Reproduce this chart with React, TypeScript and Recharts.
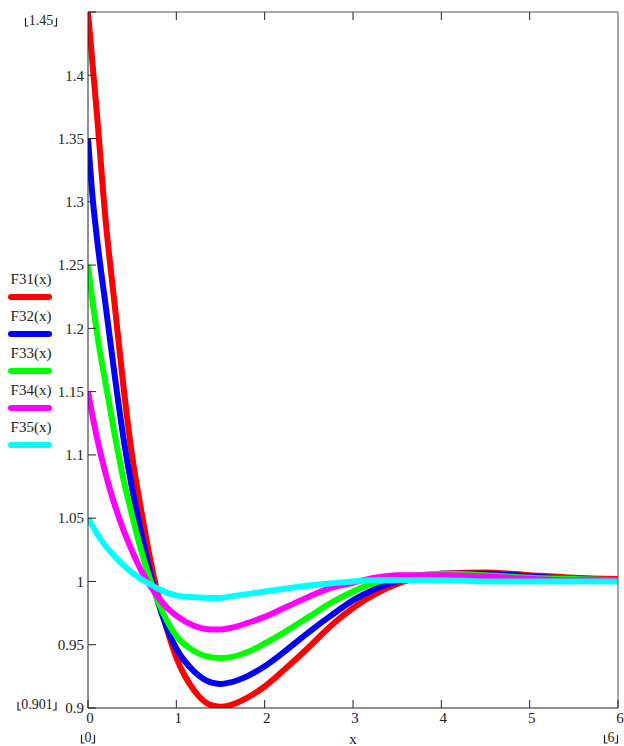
import React from 'react';
import { LineChart, Line, XAxis, YAxis } from 'recharts';

// sample points along x
const xs = [0, 0.05, 0.1, 0.2, 0.3, 0.4, 0.5, 0.6, 0.7, 0.8, 0.9, 1.0, 1.2, 1.4, 1.5, 1.6, 1.8, 2.0, 2.25, 2.5, 2.75, 3.0, 3.25, 3.5, 3.75, 4.0, 4.5, 5.0, 5.5, 6.0];

const f31 = [1.45, 1.41, 1.37, 1.285, 1.22, 1.155, 1.099, 1.057, 1.019, 0.987, 0.961, 0.94, 0.914, 0.902, 0.901, 0.902, 0.908, 0.917, 0.932, 0.948, 0.965, 0.979, 0.99, 0.998, 1.003, 1.006, 1.007, 1.005, 1.003, 1.002];
const f32 = [1.35, 1.305, 1.272, 1.218, 1.164, 1.114, 1.073, 1.039, 1.008, 0.982, 0.962, 0.947, 0.929, 0.92, 0.919, 0.92, 0.925, 0.933, 0.946, 0.96, 0.973, 0.985, 0.994, 1.0, 1.004, 1.006, 1.006, 1.004, 1.002, 1.001];
const f33 = [1.25, 1.222, 1.197, 1.156, 1.117, 1.081, 1.052, 1.025, 1.002, 0.983, 0.968, 0.957, 0.945, 0.94, 0.9395, 0.94, 0.944, 0.951, 0.961, 0.972, 0.983, 0.992, 0.999, 1.003, 1.005, 1.006, 1.005, 1.003, 1.002, 1.001];
const f34 = [1.15, 1.131, 1.114, 1.085, 1.061, 1.041, 1.024, 1.009, 0.997, 0.987, 0.979, 0.973, 0.965, 0.962, 0.962, 0.963, 0.967, 0.972, 0.98, 0.988, 0.995, 0.999, 1.003, 1.005, 1.005, 1.005, 1.004, 1.002, 1.001, 1.001];
const f35 = [1.05, 1.044, 1.038, 1.028, 1.02, 1.013, 1.007, 1.002, 0.998, 0.994, 0.991, 0.989, 0.9875, 0.987, 0.987, 0.988, 0.99, 0.992, 0.9945, 0.9968, 0.9985, 1.0, 1.001, 1.001, 1.001, 1.001, 1.0, 1.0, 1.0, 1.0];

const seriesKeys = ['F31', 'F32', 'F33', 'F34', 'F35'];
const seriesNames = ['F31(x)', 'F32(x)', 'F33(x)', 'F34(x)', 'F35(x)'];
const seriesColors = ['#ff0000', '#0000ff', '#00ff00', '#ff00ff', '#00ffff'];
const seriesValues = [f31, f32, f33, f34, f35];

const xTicks = [0, 1, 2, 3, 4, 5, 6];
const yTicks = [0.9, 0.95, 1, 1.05, 1.1, 1.15, 1.2, 1.25, 1.3, 1.35, 1.4, 1.45];
const xLimits = ['0', '6'];
const yLimits = ['0.901', '1.45'];

const data = xs.map((x, i) => {
  const row: any = { x };
  seriesKeys.forEach((k, j) => {
    row[k] = seriesValues[j][i];
  });
  return row;
});

const FONT = '"Liberation Serif", "Times New Roman", serif';
const INK = '#222';

// mathcad style limit label: text sitting inside small corner brackets
const LimitLabel = ({ x, y, text }: { x: number; y: number; text: string }) => {
  const w = text.length * 7 - (text.includes('.') ? 3 : 0);
  const l = x - w / 2 - 3;
  const r = x + w / 2 + 3;
  const b = y + 1;
  return (
    <g>
      <text x={x} y={y} textAnchor="middle" fontSize={14} fontFamily={FONT} fill={INK}>
        {text}
      </text>
      <path d={`M${l},${b - 8} L${l},${b} L${l + 3},${b}`} stroke={INK} fill="none" strokeWidth={1.2} />
      <path d={`M${r},${b - 8} L${r},${b} L${r - 3},${b}`} stroke={INK} fill="none" strokeWidth={1.2} />
    </g>
  );
};

const LeftTick = (props: any) => {
  const { x, y, payload } = props;
  const v = payload.value;
  const isTop = Math.abs(v - 1.45) < 1e-6;
  const isBottom = Math.abs(v - 0.9) < 1e-6;
  return (
    <g>
      <line x1={x} y1={y} x2={x + 8} y2={y} stroke={INK} />
      {!isTop && (
        <text x={x - 4} y={y} dy="0.35em" textAnchor="end" fontSize={15} fontFamily={FONT} fill={INK}>
          {String(v)}
        </text>
      )}
      {isTop && <LimitLabel x={x - 47} y={y + 13} text={yLimits[1]} />}
      {isBottom && <LimitLabel x={x - 51} y={y + 1} text={yLimits[0]} />}
    </g>
  );
};

const BottomTick = (props: any) => {
  const { x, y, payload } = props;
  const v = payload.value;
  return (
    <g>
      <line x1={x} y1={y} x2={x} y2={y - 8} stroke={INK} />
      <text x={x + 2} y={y + 15} textAnchor="middle" fontSize={15} fontFamily={FONT} fill={INK}>
        {String(v)}
      </text>
      {v === 0 && <LimitLabel x={x} y={y + 34} text={xLimits[0]} />}
      {v === 6 && <LimitLabel x={x - 7} y={y + 34} text={xLimits[1]} />}
    </g>
  );
};

const TopTick = (props: any) => {
  const { x, y } = props;
  return <line x1={x} y1={y} x2={x} y2={y + 8} stroke={INK} />;
};

const RightTick = (props: any) => {
  const { x, y } = props;
  return <line x1={x} y1={y} x2={x - 8} y2={y} stroke={INK} />;
};

const SideLegend = () => (
  <div style={{ position: 'absolute', left: 8, top: 270, width: 44, fontFamily: FONT, fontSize: 15, color: INK }}>
    {seriesNames.map((name, i) => (
      <div key={name} style={{ height: 37, position: 'relative' }}>
        <div style={{ position: 'absolute', left: 0, width: 46, top: 0, lineHeight: '18px', textAlign: 'center' }}>{name}</div>
        <div
          style={{
            position: 'absolute',
            left: 0,
            top: 24,
            width: 44,
            height: 6,
            borderRadius: 3,
            background: seriesColors[i],
          }}
        />
      </div>
    ))}
  </div>
);

export default function App() {
  return (
    <div style={{ position: 'absolute', left: 0, top: 0, width: 624, height: 746, background: '#fff' }}>
      <LineChart width={624} height={746} data={data} margin={{ top: 11, right: 5, bottom: 8, left: 8 }}>
        <XAxis
          dataKey="x"
          type="number"
          domain={[0, 6]}
          ticks={xTicks}
          height={30}
          tickSize={0}
          tickMargin={0}
          tick={BottomTick}
          axisLine={{ stroke: INK }}
          label={{ value: 'x', position: 'insideBottom', offset: -6, fontSize: 15, fontFamily: FONT, fill: INK }}
          allowDataOverflow
        />
        <XAxis
          xAxisId="top"
          orientation="top"
          dataKey="x"
          type="number"
          domain={[0, 6]}
          ticks={xTicks.slice(1, -1)}
          height={1}
          tickSize={0}
          tickMargin={0}
          tick={TopTick}
          axisLine={{ stroke: '#555' }}
        />
        <YAxis
          type="number"
          domain={[0.9, 1.45]}
          ticks={yTicks}
          width={80}
          tickSize={0}
          tickMargin={0}
          tick={LeftTick}
          axisLine={{ stroke: INK }}
          allowDataOverflow
        />
        <YAxis
          yAxisId="right"
          orientation="right"
          type="number"
          domain={[0.9, 1.45]}
          ticks={yTicks.slice(1, -1)}
          width={1}
          tickSize={0}
          tickMargin={0}
          tick={RightTick}
          axisLine={{ stroke: '#555' }}
        />
        {seriesKeys.map((k, i) => (
          <Line
            key={k}
            dataKey={k}
            name={seriesNames[i]}
            type="monotone"
            stroke={seriesColors[i]}
            strokeWidth={6}
            dot={false}
            activeDot={false}
            isAnimationActive={false}
          />
        ))}
      </LineChart>
      <SideLegend />
    </div>
  );
}
